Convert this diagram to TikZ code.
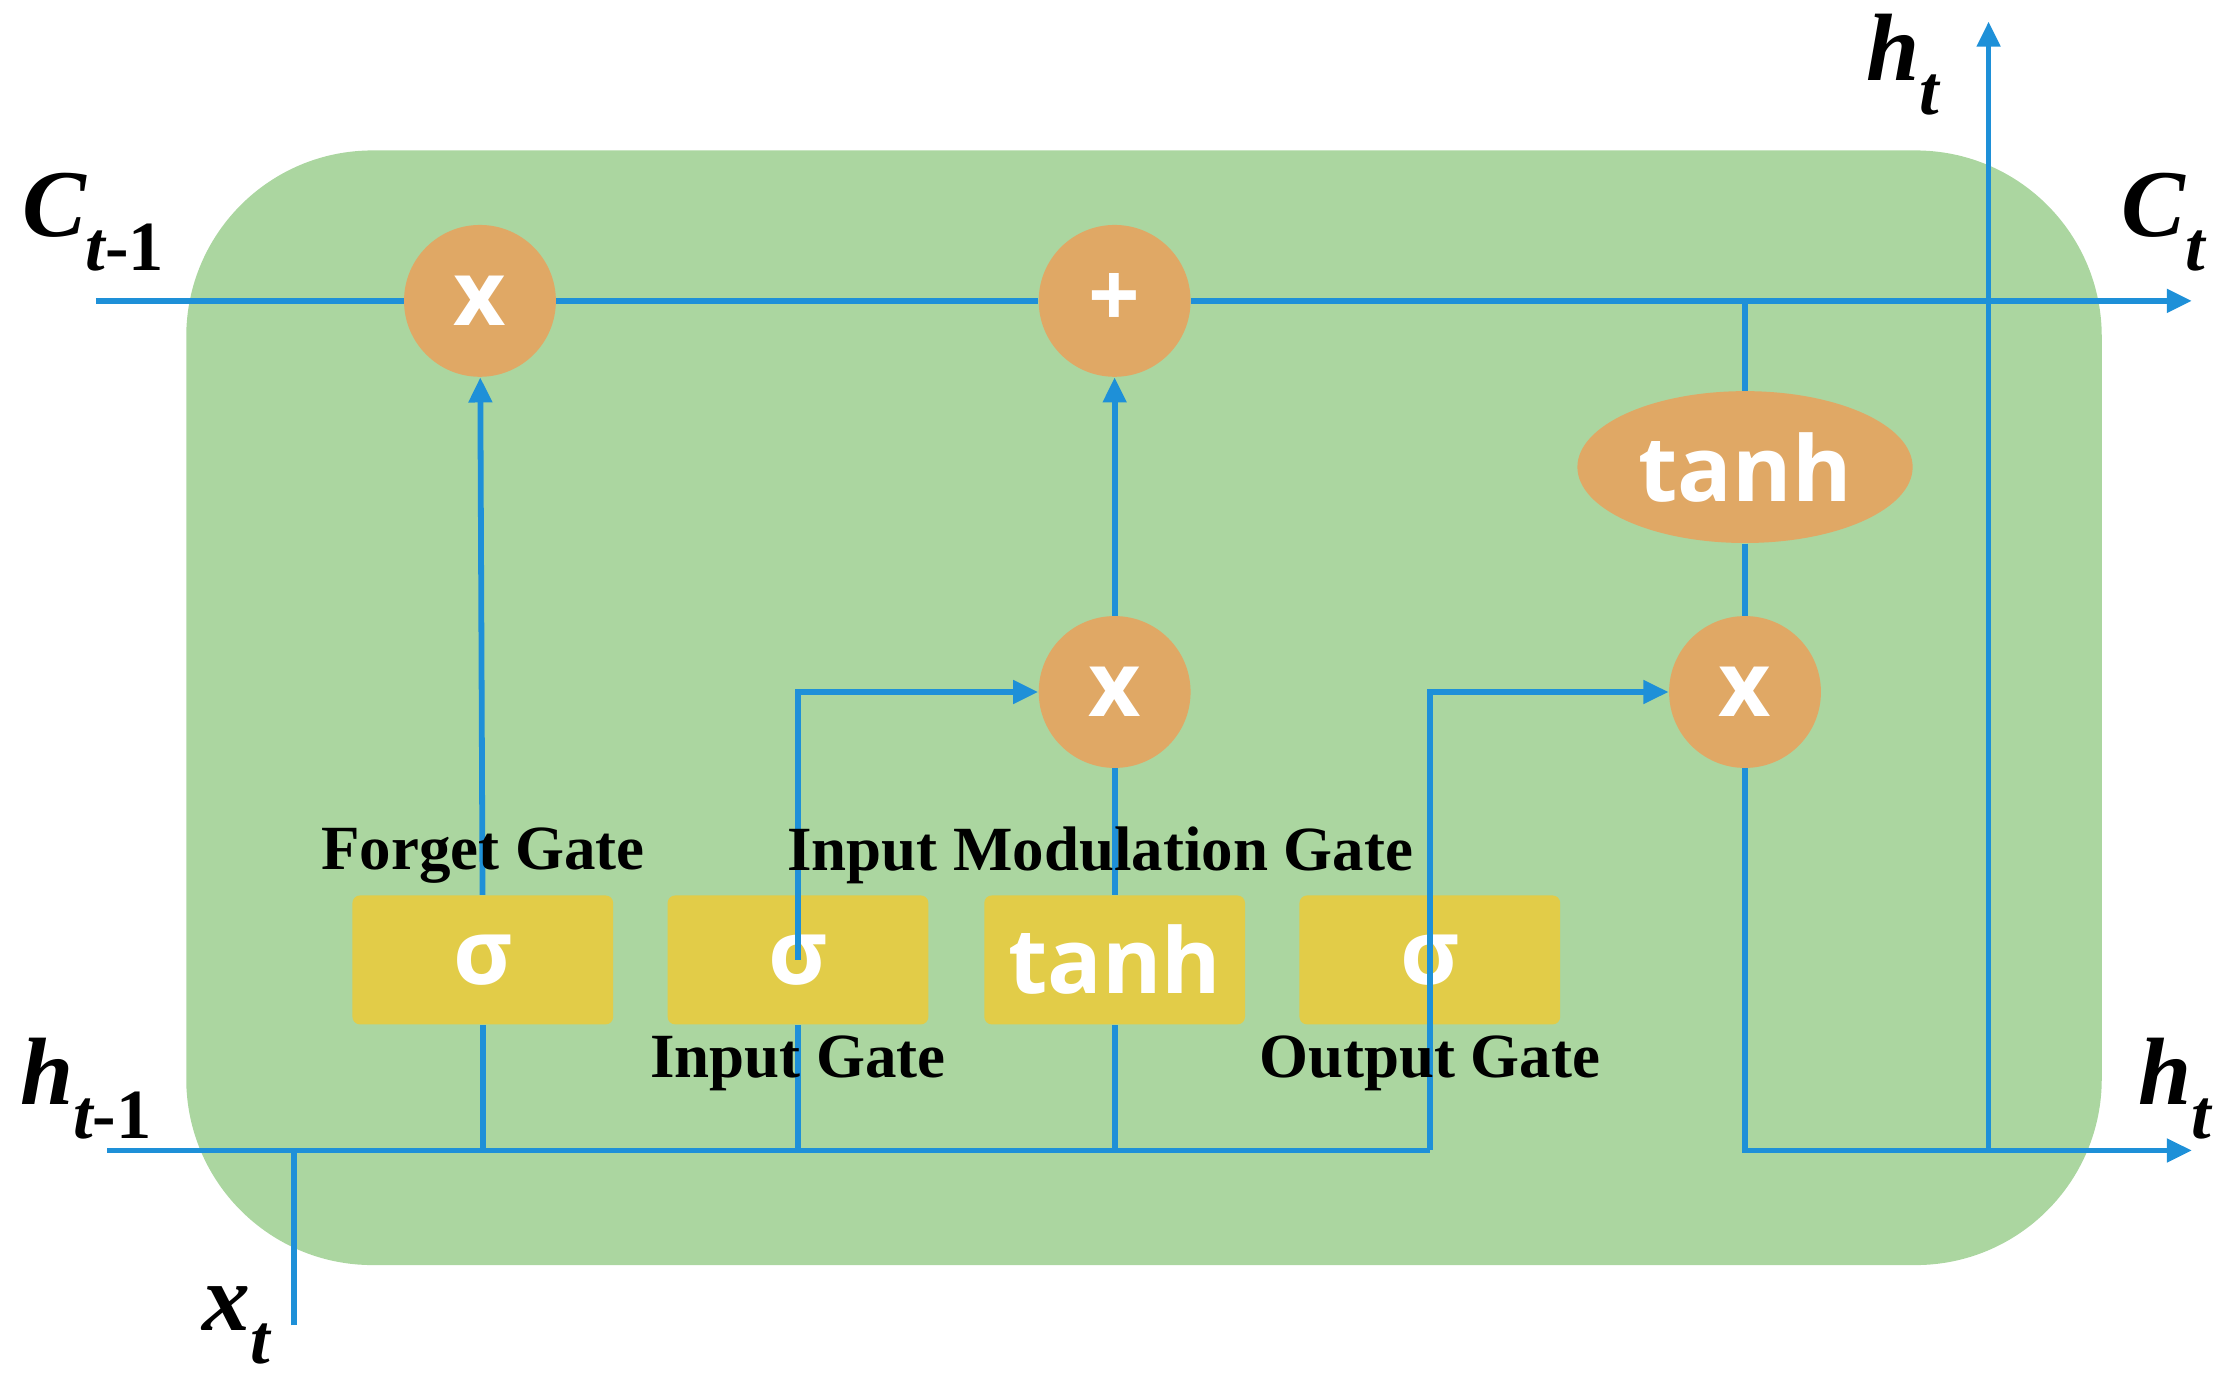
\documentclass[tikz,border=0pt]{standalone}
\usepackage{fontspec}
\setmainfont{Liberation Serif}
\newfontfamily\sans{Open Sans}
\usetikzlibrary{shapes.geometric,arrows.meta}
\definecolor{cellg}{HTML}{ABD6A0}
\definecolor{op}{HTML}{E0A865}
\definecolor{gate}{HTML}{E2CC48}
\definecolor{ln}{HTML}{1E90D8}
\newcommand{\lsub}[1]{\raisebox{-0.35em}{\fontsize{28}{30}\selectfont #1}}
\begin{document}
\begin{tikzpicture}[x=0.02cm,y=-0.02cm,
  line/.style={ln,line width=2.3pt},
  arr/.style={line,-{Triangle[length=10pt,width=9pt]}},
  opc/.style={circle,fill=op,minimum size=106*0.02cm,inner sep=0pt,text=white,font=\sans\bfseries\fontsize{36}{40}\selectfont},
  gbox/.style={rectangle,rounded corners=3pt,fill=gate,minimum width=182*0.02cm,minimum height=90*0.02cm,inner sep=0pt,text=white,font=\sans\bfseries\fontsize{36}{40}\selectfont},
  glab/.style={font=\bfseries\fontsize{25}{28}\selectfont},
  vlab/.style={font=\bfseries\itshape\fontsize{38}{42}\selectfont}]
\useasboundingbox (0,0) rectangle (1560,964);
\fill[cellg,rounded corners=130*0.02cm] (130,105) rectangle (1467,883);
% nodes
\node[opc] (f) at (335,210) {x};
\node[opc] (p) at (778,210) {+};
\node[opc] (m) at (778,483) {x};
\node[opc] (o) at (1218,483) {x};
\node[ellipse,fill=op,minimum width=234*0.02cm,minimum height=106*0.02cm,inner sep=0pt,text=white,font=\sans\bfseries\fontsize{36}{40}\selectfont] (th) at (1218,326) {tanh};
\node[gbox] (g1) at (337,670) {σ};
\node[gbox] (g2) at (557,670) {σ};
\node[gbox] (g3) at (778,670) {tanh};
\node[gbox] (g4) at (998,670) {σ};
% coordinates
\coordinate (cin) at (67,210);
\coordinate (cout) at (1530,210);
\coordinate (tj) at (1218,210);
\coordinate (hin) at (75,803);
\coordinate (hend) at (998,803);
\coordinate (hout) at (1530,803);
\coordinate (htop) at (1388,15);
\coordinate (hj) at (1388,803);
\coordinate (xb) at (205,925);
\coordinate (xj) at (205,803);
% lines
\draw[line] (cin) -- (f) -- (p) -- (tj);
\draw[arr] (tj) -- (cout);
\draw[line] (tj) -- (th) -- (o);
\draw[line] (hin) -- (hend);
\draw[line] (xb) -- (xj);
\draw[line] (337,803) -- (g1);
\draw[arr] (g1) -- (f);
\draw[line] (557,803) -- (g2);
\draw[arr] (g2.center) |- (m);
\draw[line] (778,803) -- (g3) -- (m);
\draw[arr] (m) -- (p);
\draw[arr] (hend) -- (g4.center) |- (o);
\draw[arr] (o) |- (hout);
\draw[arr] (hj) -- (htop);
% labels
\node[glab] at (337,597) {Forget Gate};
\node[glab] at (768,597) {Input Modulation Gate};
\node[glab] at (557,742) {Input Gate};
\node[glab] at (998,742) {Output Gate};
\node[vlab] at (65,155) {C\lsub{t{\upshape-1}}};
\node[vlab] at (1510,155) {C\lsub{t}};
\node[vlab] at (1328,45) {h\lsub{t}};
\node[vlab] at (60,760) {h\lsub{t{\upshape-1}}};
\node[vlab] at (1518,760) {h\lsub{t}};
\node[vlab] at (165,925) {x\lsub{t}};
\end{tikzpicture}
\end{document}
